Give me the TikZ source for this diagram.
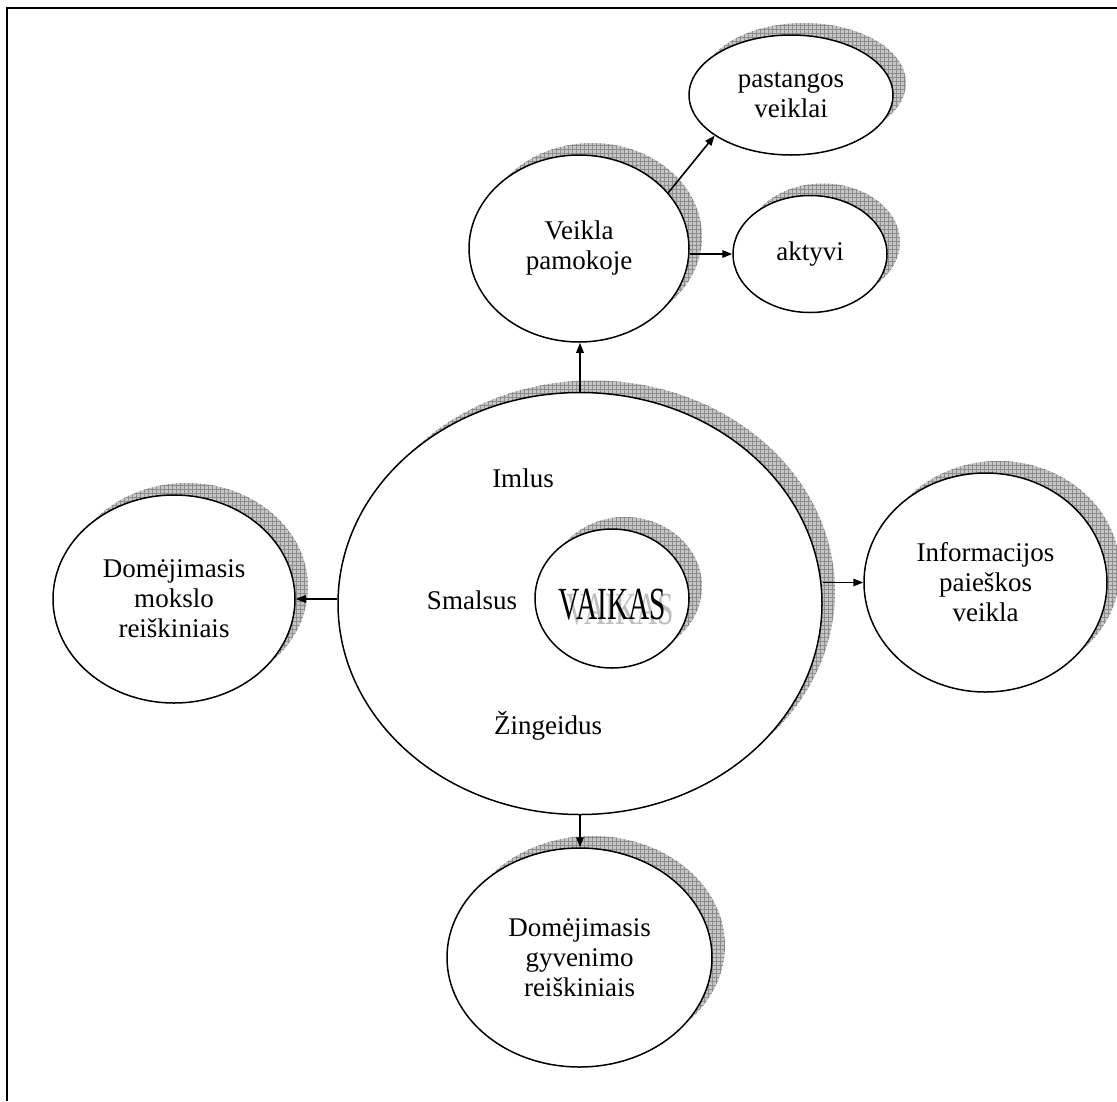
\documentclass[tikz,border=0pt]{standalone}
\usepackage{fontspec}
\setmainfont{Liberation Serif}
\usetikzlibrary{shapes.geometric,arrows.meta,patterns.meta,calc}
\tikzdeclarepattern{
  name=mygrid,
  type=uncolored,
  bottom left={(-.1pt,-.1pt)},
  top right={(4.1pt,4.1pt)},
  tile size={(4pt,4pt)},
  code={
    \tikzset{x=1pt,y=1pt}
    \pgfsetlinewidth{0.6pt}
    \pgfpathmoveto{\pgfpoint{0pt}{0pt}}
    \pgfpathlineto{\pgfpoint{4pt}{0pt}}
    \pgfpathmoveto{\pgfpoint{0pt}{0pt}}
    \pgfpathlineto{\pgfpoint{0pt}{4pt}}
    \pgfusepath{stroke}
  }
}
\newcommand\lbl{\fontsize{27}{30}\selectfont}
\newcommand\bigvk{\fontsize{46}{50}\selectfont}
\newcommand\shell[6]{%
  \fill[shadowfill] (#2+13,#3-12) ellipse [x radius=#4pt, y radius=#5pt];
  \node[ell, minimum width=2*#4pt, minimum height=2*#5pt] (#1) at (#2,#3) {#6};
}
\begin{document}
\begin{tikzpicture}[x=1pt,y=-1pt,
  ell/.style={ellipse, draw=black, line width=1.5pt, fill=white, inner sep=0pt, align=center, font=\lbl},
  shadowfill/.style={fill=gray!45, postaction={pattern=mygrid, pattern color=gray!90}},
  arr/.style={line width=1.6pt, -{Triangle[length=10pt,width=7.5pt]}},
  word/.style={font=\lbl, inner sep=0pt, anchor=base},
  frame/.style={line width=2pt, draw=black}]
\useasboundingbox (0,0) rectangle (1117,1101);
\draw[frame] (7,1101) -- (7,8) -- (1117,8);

\shell{big}{580}{603.5}{242}{211}{}
\shell{vaikas}{612}{598.5}{77}{69.5}{}
\shell{veikla}{579}{248.5}{110}{93.5}{Veikla\\pamokoje}
\shell{past}{791}{95}{102}{60}{pastangos\\veiklai}
\shell{akt}{810}{254}{77}{58.5}{\raisebox{-7pt}{aktyvi}}
\shell{left}{174}{599}{121}{104}{Domėjimasis\\mokslo\\reiškiniais}
\shell{info}{985.5}{582.5}{121.5}{109.5}{Informacijos\\paieškos\\veikla}
\shell{bot}{579.5}{957.5}{132.5}{109.5}{Domėjimasis\\gyvenimo\\reiškiniais}

\node[inner sep=0pt, text=gray!50, font=\bigvk] (vkshadow) at ($(vaikas.center)+(8.5,11.5)$) {\scalebox{0.64}[1]{VAIKAS}};
\node[inner sep=0pt, text=black, font=\bigvk] (vktext) at ($(vaikas.center)+(0.5,6.5)$) {\scalebox{0.64}[1]{VAIKAS}};

\node[word] (imlus) at (523,487) {Imlus};
\node[word] (smalsus) at (472,609) {Smalsus};
\node[word] (zing) at (548,734) {Žingeidus};

\draw[arr] (big.north) -- (big.north |- veikla.south);
\draw[arr] (veikla.32) -- (past.208);
\draw[arr] (veikla.east |- akt.west) -- (akt.west);
\draw[arr] (big.west |- left.east) -- (left.east);
\draw[arr] (big.east |- info.west) -- (info.west);
\draw[arr] (big.south) -- (big.south |- bot.north);
\end{tikzpicture}
\end{document}
